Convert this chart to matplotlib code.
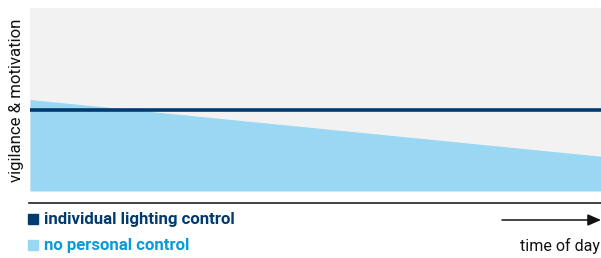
import matplotlib
matplotlib.use("Agg")
import matplotlib.pyplot as plt
from matplotlib.patches import Rectangle, FancyArrowPatch

# data (relative scale 0-100)
time_pts = [0, 1]
individual_control = [44, 44]
no_personal_control = [50, 19]
legend_labels = ["individual lighting control", "no personal control"]
ylabel = "vigilance & motivation"
xlabel = "time of day"

navy = "#003b6f"
lightblue = "#9ad7f3"
textblue = "#0a9ad8"
bg = "#f2f2f2"

plt.rcParams['font.family'] = ['Roboto', 'DejaVu Sans']

fig = plt.figure(figsize=(6.01, 2.58), dpi=100)
ax = fig.add_axes([30/601, 67/258, 571/601, 183/258])
ax.set_facecolor(bg)
ax.fill_between(time_pts, no_personal_control, 0, color=lightblue, lw=0)
ax.plot(time_pts, individual_control, color=navy, lw=2.6, solid_capstyle='butt')
ax.set_xlim(0, 1)
ax.set_ylim(0, 100)
ax.set_xticks([])
ax.set_yticks([])
for s in ax.spines.values():
    s.set_visible(False)
fig.text(17/601, 1 - 100.5/258, ylabel, rotation=90, ha='center', va='center',
         fontsize=12.1, color='#111111')

# baseline
fig.add_artist(plt.Line2D([29/601, 1.0], [1 - 203/258, 1 - 203/258],
                          color='#222222', lw=1.2, transform=fig.transFigure))

# legend
fig.add_artist(Rectangle((28/601, 1 - 224/258), 10/601, 10/258, color=navy,
                         transform=fig.transFigure))
fig.add_artist(Rectangle((28/601, 1 - 250/258), 10/601, 10/258, color=lightblue,
                         transform=fig.transFigure))
fig.text(44/601, 1 - 219.5/258, legend_labels[0], ha='left', va='center',
         fontsize=12.1, fontweight='bold', color=navy)
fig.text(44/601, 1 - 245.5/258, legend_labels[1], ha='left', va='center',
         fontsize=12.1, fontweight='bold', color=textblue)

# arrow
fig.add_artist(FancyArrowPatch(
    (502/601, 1 - 220/258), (601/601, 1 - 220/258), transform=fig.transFigure,
    arrowstyle='-|>,head_length=8,head_width=3.5', color='#111111', lw=1.1,
    mutation_scale=1, shrinkA=0, shrinkB=0))
fig.text(600/601, 1 - 246/258, xlabel, ha='right', va='center',
         fontsize=11.5, color='#111111')

fig.savefig("out.png", dpi=100)
